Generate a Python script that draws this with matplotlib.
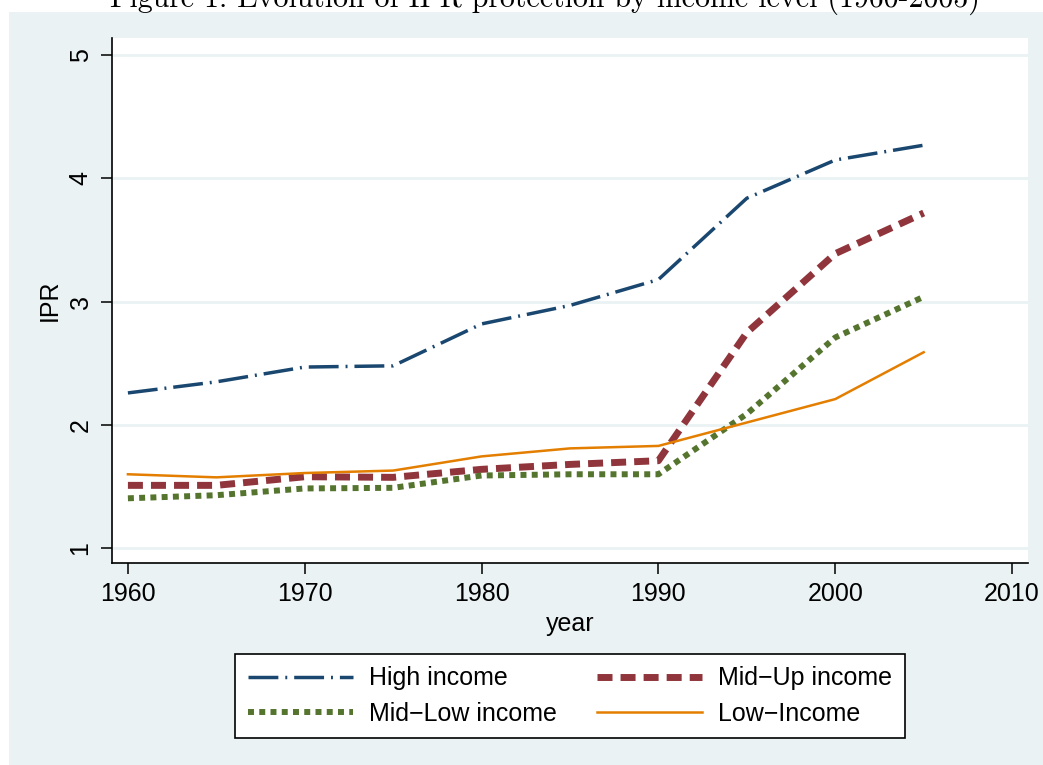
import matplotlib
matplotlib.use('Agg')
import matplotlib.pyplot as plt
from matplotlib.patches import Rectangle

plt.rcParams['font.family'] = ['Liberation Sans', 'DejaVu Sans']
plt.rcParams['lines.scale_dashes'] = False

# data
years = [1960, 1965, 1970, 1975, 1980, 1985, 1990, 1995, 2000, 2005]
high_income = [2.26, 2.35, 2.47, 2.48, 2.82, 2.97, 3.18, 3.84, 4.15, 4.27]
midup_income = [1.51, 1.51, 1.58, 1.575, 1.64, 1.68, 1.71, 2.75, 3.39, 3.72]
midlow_income = [1.405, 1.43, 1.485, 1.49, 1.59, 1.60, 1.60, 2.09, 2.71, 3.04]
low_income = [1.60, 1.575, 1.61, 1.63, 1.745, 1.81, 1.83, 2.02, 2.21, 2.59]

x_ticks = [1960, 1970, 1980, 1990, 2000, 2010]
y_ticks = [1, 2, 3, 4, 5]

bg = '#eaf2f3'

fig = plt.figure(figsize=(10.43, 7.65), dpi=100)
fig.patch.set_facecolor('white')
fig.patches.append(Rectangle((9 / 1043, 0), 1, 1 - 12 / 765, transform=fig.transFigure,
                             facecolor=bg, edgecolor='none', zorder=-10))

ax = fig.add_axes([112 / 1043, 1 - 563 / 765, (1028 - 112) / 1043, (563 - 38) / 765])
ax.set_facecolor('white')

l1, = ax.plot(years, high_income, color='#1a476f', lw=2.5, dashes=(21.5, 5, 1.4, 5),
              dash_capstyle='butt', label='High income')
l2, = ax.plot(years, midup_income, color='#90353b', lw=5, dashes=(10.8, 5.8),
              dash_capstyle='butt', label='Mid\u2212Up income')
l3, = ax.plot(years, midlow_income, color='#55752f', lw=4.3, dashes=(4.3, 3.8),
              dash_capstyle='butt', label='Mid\u2212Low income')
l4, = ax.plot(years, low_income, color='#e37e00', lw=1.8, label='Low\u2212Income')

ax.set_xlim(1959.1, 2010.9)
ax.set_ylim(0.88, 5.14)
ax.set_xticks(x_ticks)
ax.set_yticks(y_ticks)
ax.set_yticklabels([str(v) for v in y_ticks], rotation=90, va='center')
ax.tick_params(direction='out', length=8, width=1.1, labelsize=18, pad=6)
ax.yaxis.grid(True, color=bg, lw=2)
ax.set_axisbelow(True)
for s in ['top', 'right']:
    ax.spines[s].set_visible(False)
for s in ['left', 'bottom']:
    ax.spines[s].set_linewidth(1.2)

ax.set_xlabel('year', fontsize=18, labelpad=4)
ax.set_ylabel('IPR', fontsize=18, labelpad=5)

leg = fig.legend([l1, l3, l2, l4], [l1.get_label(), l3.get_label(), l2.get_label(), l4.get_label()],
                 ncol=2, loc='center', bbox_to_anchor=(570 / 1043, 1 - 696 / 765),
                 fontsize=18, frameon=True, fancybox=False, edgecolor='black',
                 facecolor='white', framealpha=1,
                 handlelength=4.2, handletextpad=0.65, columnspacing=1.6,
                 labelspacing=0.45, borderpad=0.5)
leg.get_frame().set_linewidth(1.2)

fig.text(545 / 1043, 1 - 7 / 765, 'Figure 1: Evolution of IPR protection by income level (1960-2005)',
         fontsize=21.5, family='cmr10', ha='center', va='baseline')

fig.savefig('out.png', dpi=100)
